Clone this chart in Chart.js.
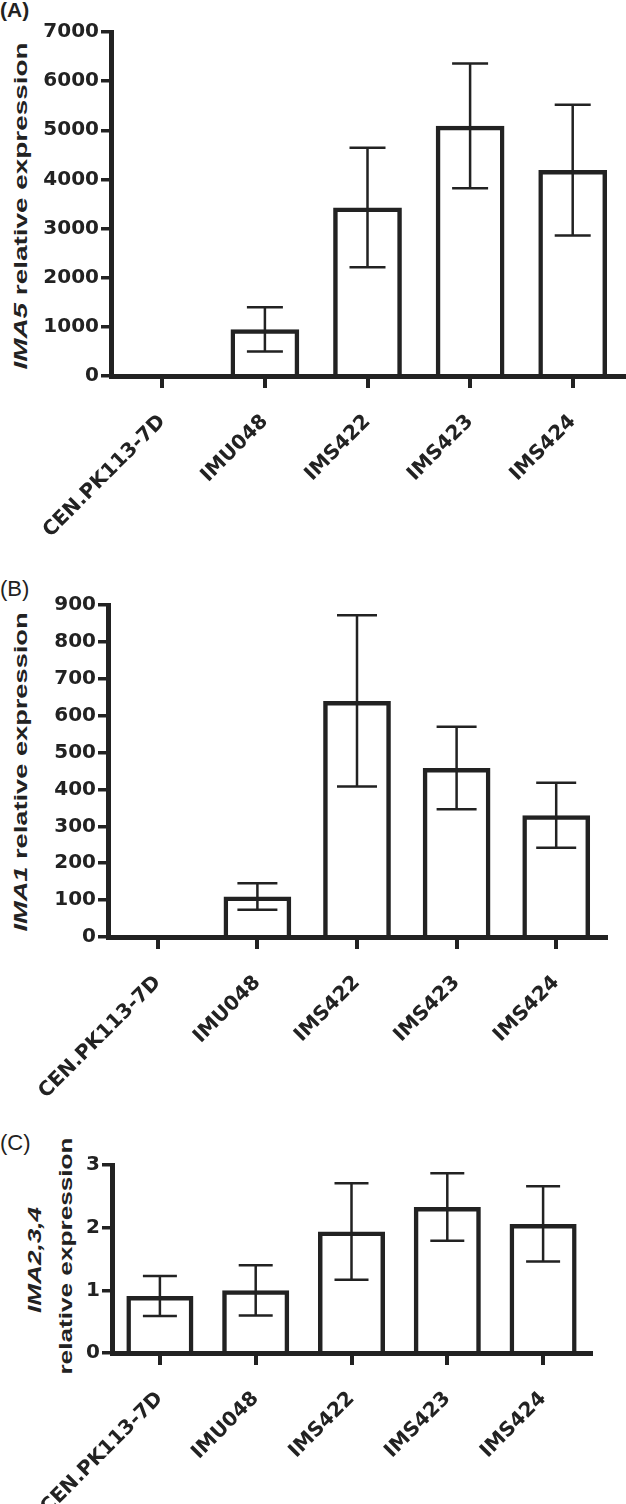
<!DOCTYPE html>
<html>
<head>
<meta charset="utf-8">
<script src="https://cdn.jsdelivr.net/npm/chart.js@4.4.0/dist/chart.umd.min.js"></script>
<style>
body{margin:0;background:#fff;width:626px;height:1504px;position:relative;overflow:hidden;font-family:"Liberation Sans",Arial,sans-serif;color:#222}
canvas{position:absolute;left:0}
.tag{position:absolute;left:0;font-size:22px;line-height:22px}
.yt{position:absolute;white-space:nowrap;font-size:18px;line-height:18px;font-weight:bold}
</style>
</head>
<body>

<div class="tag" style="top:-1px;font-weight:bold;font-size:21px">(A)</div>
<div class="tag" style="top:578px">(B)</div>
<div class="tag" style="top:1132px">(C)</div>

<div class="yt" data-cx="20" data-cy="206" data-len="327"><i>IMA5</i> relative expression</div>
<div class="yt" data-cx="20" data-cy="772" data-len="319"><i>IMA1</i> relative expression</div>
<div class="yt" data-cx="34" data-cy="1260" data-len="106"><i>IMA2,3,4</i></div>
<div class="yt" data-cx="65" data-cy="1256" data-len="237">relative expression</div>

<canvas id="chartA" width="626" height="560" style="top:0"></canvas>
<canvas id="chartB" width="626" height="530" style="top:570px"></canvas>
<canvas id="chartC" width="626" height="374" style="top:1130px"></canvas>

<script>
// strains
let strains = ['CEN.PK113-7D', 'IMU048', 'IMS422', 'IMS423', 'IMS424'];

// (A) IMA5
let ima5 = [0, 950, 3430, 5090, 4190];
let ima5Err = [0, 450, 1215, 1270, 1330];

// (B) IMA1
let ima1 = [2, 110, 640, 458, 330];
let ima1Err = [0, 36, 232, 112, 88];

// (C) IMA2,3,4
let ima234 = [0.91, 1.0, 1.94, 2.33, 2.06];
let ima234Err = [0.32, 0.4, 0.77, 0.54, 0.6];

let ink = '#222';
let tickFont = { family: 'DejaVu Sans', size: 20, weight: 'bold' };

// error bars drawn on the bar chart's own y scale
let errorBars = {
  id: 'errorBars',
  afterDatasetsDraw(chart, args, opts) {
    let ctx = chart.ctx;
    let y = chart.scales.y;
    let ds = chart.data.datasets[0];
    let meta = chart.getDatasetMeta(0);
    ctx.save();
    ctx.strokeStyle = ink;
    ctx.lineWidth = 2.5;
    meta.data.forEach(function(bar, i){
      let e = ds.errors[i];
      if(!e) return;
      let top = y.getPixelForValue(ds.data[i] + e);
      let bot = y.getPixelForValue(ds.data[i] - e);
      let c = opts.cap / 2;
      ctx.beginPath();
      ctx.moveTo(bar.x, top); ctx.lineTo(bar.x, bot);
      ctx.moveTo(bar.x - c, top); ctx.lineTo(bar.x + c, top);
      ctx.moveTo(bar.x - c, bot); ctx.lineTo(bar.x + c, bot);
      ctx.stroke();
    });
    ctx.restore();
  }
};

function makeChart(id, values, errors, yMax, yStep, area, cap, barPct){
  let canvas = document.getElementById(id);
  let h = canvas.height;
  new Chart(canvas, {
    type: 'bar',
    data: {
      labels: strains,
      datasets: [{
        data: values,
        errors: errors,
        backgroundColor: 'rgba(0,0,0,0)',
        borderColor: ink,
        borderWidth: 4.5,
        barPercentage: barPct,
        categoryPercentage: 1
      }]
    },
    options: {
      responsive: false,
      animation: false,
      events: [],
      layout: { padding: { top: area.top, right: 626 - area.right, left: 0, bottom: 0 } },
      plugins: { legend: { display: false }, tooltip: { enabled: false }, errorBars: { cap: cap } },
      scales: {
        x: {
          grid: { display: true, drawOnChartArea: false, offset: false, tickLength: 12, lineWidth: 4, color: ink },
          border: { display: true, width: 5, color: ink },
          ticks: { maxRotation: 45, minRotation: 45, autoSkip: false, padding: 22, color: ink, font: tickFont },
          afterFit: function(s){ s.height = h - area.bottom; }
        },
        y: {
          min: 0, max: yMax,
          grid: { display: true, drawOnChartArea: false, tickLength: 10, lineWidth: 3.5, color: ink },
          border: { display: true, width: 5, color: ink },
          ticks: { stepSize: yStep, padding: 2, color: ink, font: tickFont,
                   callback: function(v){ return String(v); } },
          afterFit: function(s){ s.width = area.left; }
        }
      }
    },
    plugins: [errorBars]
  });
}

makeChart('chartA', ima5, ima5Err, 7000, 1000, { left: 111, top: 32, right: 624, bottom: 376 }, 36, 0.67);
makeChart('chartB', ima1, ima1Err, 900, 100, { left: 108, top: 35, right: 606, bottom: 367 }, 40, 0.68);
makeChart('chartC', ima234, ima234Err, 3, 1, { left: 112, top: 35, right: 591, bottom: 223 }, 34, 0.70);

// rotated, stretched axis titles
document.querySelectorAll('.yt').forEach(function(el){
  let w = el.offsetWidth;
  let k = parseFloat(el.dataset.len) / w;
  el.style.left = (parseFloat(el.dataset.cx) - w / 2) + 'px';
  el.style.top = (parseFloat(el.dataset.cy) - el.offsetHeight / 2) + 'px';
  el.style.transform = 'rotate(-90deg) scaleX(' + k + ')';
});
</script>
</body>
</html>
